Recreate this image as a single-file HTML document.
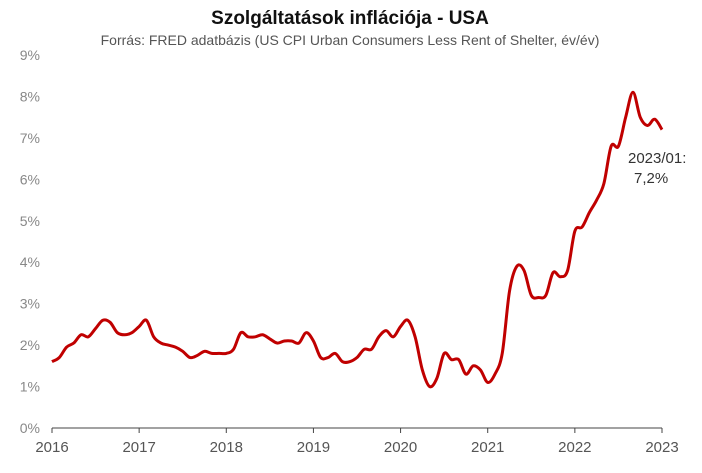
<!DOCTYPE html>
<html><head><meta charset="utf-8"><style>
body{margin:0;background:#fff;}
svg text{font-family:"Liberation Sans",sans-serif;}
</style></head><body>
<svg width="702" height="468" viewBox="0 0 702 468" xmlns="http://www.w3.org/2000/svg">
<text x="350" y="24" text-anchor="middle" font-size="19" font-weight="bold" fill="#111">Szolgáltatások inflációja - USA</text>
<text x="350" y="45" text-anchor="middle" font-size="14" fill="#555">Forrás: FRED adatbázis (US CPI Urban Consumers Less Rent of Shelter, év/év)</text>
<g id="yaxis"></g>
<g id="xaxis"></g>
<path id="line" fill="none" stroke="#c00000" stroke-width="3" stroke-linejoin="round"/>
<text x="628" y="163" font-size="15" fill="#333">2023/01:</text>
<text x="634" y="183" font-size="15" fill="#333">7,2%</text>
</svg>
<script>
const years=[2016,2017,2018,2019,2020,2021,2022,2023];
const yTicks=[0,1,2,3,4,5,6,7,8,9];
const values=[
1.6,1.7,1.95,2.05,2.25,2.2,2.4,2.6,2.55,2.3,2.25,2.3,
2.45,2.6,2.2,2.05,2.0,1.95,1.85,1.7,1.75,1.85,1.8,1.8,
1.8,1.9,2.3,2.2,2.2,2.25,2.15,2.05,2.1,2.1,2.05,2.3,
2.1,1.7,1.7,1.8,1.6,1.6,1.7,1.9,1.9,2.2,2.35,2.2,
2.45,2.6,2.2,1.4,1.0,1.2,1.8,1.65,1.65,1.3,1.5,1.4,
1.1,1.3,1.8,3.3,3.9,3.8,3.2,3.15,3.2,3.75,3.65,3.8,
4.75,4.85,5.2,5.5,5.9,6.8,6.8,7.5,8.1,7.5,7.3,7.45,
7.2];
const X0=52,X1=662,Y0=428,Y9=55;
const xs=t=>X0+(t-2016)/7*(X1-X0);
const ys=v=>Y0-v/9*(Y0-Y9);
const NS="http://www.w3.org/2000/svg";
const ya=document.getElementById('yaxis'),xa=document.getElementById('xaxis');
yTicks.forEach(v=>{const t=document.createElementNS(NS,'text');


t.setAttribute('x',40);t.setAttribute('y',ys(v)+5);t.setAttribute('text-anchor','end');
t.setAttribute('font-size','14');t.setAttribute('fill','#888');t.textContent=v+'%';ya.appendChild(t);});
const ax=document.createElementNS(NS,'line');


ax.setAttribute('x1',X0);ax.setAttribute('x2',X1);ax.setAttribute('y1',Y0);ax.setAttribute('y2',Y0);ax.setAttribute('stroke','#444');xa.appendChild(ax);
years.forEach(y=>{const l=document.createElementNS(NS,'line');


l.setAttribute('x1',xs(y));l.setAttribute('x2',xs(y));l.setAttribute('y1',Y0);l.setAttribute('y2',Y0+5);l.setAttribute('stroke','#444');xa.appendChild(l);
const t=document.createElementNS(NS,'text');


t.setAttribute('x',xs(y));t.setAttribute('y',Y0+24);t.setAttribute('text-anchor','middle');t.setAttribute('font-size','15');t.setAttribute('fill','#555');t.textContent=y;xa.appendChild(t);});
const pts=values.map((v,i)=>[xs(2016+i/12),ys(v)]);
let d='M'+pts[0][0]+','+pts[0][1];
for(let i=0;i<pts.length-1;i++){const p0=pts[Math.max(i-1,0)],p1=pts[i],p2=pts[i+1],p3=pts[Math.min(i+2,pts.length-1)];
d+=' C'+(p1[0]+(p2[0]-p0[0])/6)+','+(p1[1]+(p2[1]-p0[1])/6)+' '+(p2[0]-(p3[0]-p1[0])/6)+','+(p2[1]-(p3[1]-p1[1])/6)+' '+p2[0]+','+p2[1];}
document.getElementById('line').setAttribute('d',d);
</script>
</body></html>
